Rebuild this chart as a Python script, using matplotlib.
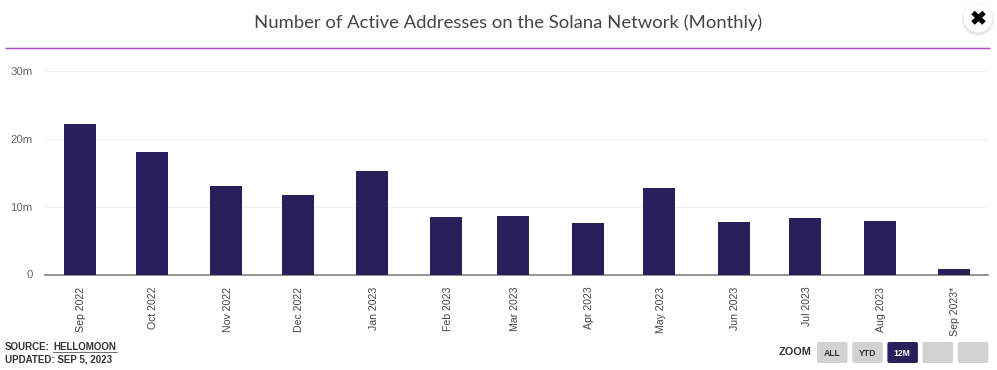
#!/usr/bin/env python3
import matplotlib
matplotlib.use("Agg")
import matplotlib.pyplot as plt
import matplotlib.dates as mdates
from matplotlib.patches import FancyBboxPatch, Circle
from datetime import date

W = 997
H = 370
navy = "#27205c"

months = [date(2022, 9, 1), date(2022, 10, 1), date(2022, 11, 1), date(2022, 12, 1),
          date(2023, 1, 1), date(2023, 2, 1), date(2023, 3, 1), date(2023, 4, 1),
          date(2023, 5, 1), date(2023, 6, 1), date(2023, 7, 1), date(2023, 8, 1),
          date(2023, 9, 1)]
month_labels = ["Sep 2022", "Oct 2022", "Nov 2022", "Dec 2022", "Jan 2023", "Feb 2023",
                "Mar 2023", "Apr 2023", "May 2023", "Jun 2023", "Jul 2023", "Aug 2023",
                "Sep 2023*"]
active = [22.2, 18.1, 13.05, 11.7, 15.2, 8.5, 8.6, 7.6, 12.8, 7.75, 8.3, 7.9, 0.8]
y_ticks = [0, 10, 20, 30]
y_labels = ["0", "10m", "20m", "30m"]
zoom_buttons = ["ALL", "YTD", "12M", "", ""]

fig = plt.figure(figsize=(W / 100, H / 100), dpi=100)
fig.patch.set_facecolor("white")

# chart area, placed in pixels
left, right, top, bottom = 45, 988, 71, 274.5
ax = fig.add_axes([left / W, 1 - bottom / H, (right - left) / W, (bottom - top) / H])
x = mdates.date2num(months)
px_per_day = 2.394
ax.set_xlim(x[0] - (80 - left) / px_per_day, x[0] + (right - 80) / px_per_day)
ax.set_ylim(0, 30)
ax.bar(x, active, width=32 / px_per_day, color=navy, zorder=3)

ax.set_yticks(y_ticks)
ax.set_yticklabels(y_labels, fontsize=8.2, color="#666666", family="Liberation Sans")
# tick labels sit a bit off the tick in the original, so annotate them instead
ax.set_xticks(x)
ax.set_xticklabels([])
for xi, label in zip(x, month_labels):
    ax.annotate(label, (xi, 0), xytext=(1.5, -12), textcoords="offset pixels", rotation=90,
                ha="center", va="top", fontsize=7.6, color="#444444",
                family="Liberation Sans", annotation_clip=False)
ax.tick_params(axis="both", length=0)
ax.tick_params(axis="y", pad=9)
ax.grid(axis="y", color="#efefef", lw=0.8, zorder=0)
ax.set_axisbelow(True)
for s in ["top", "left", "right"]:
    ax.spines[s].set_visible(False)
ax.spines["bottom"].set_color("#8c8c8c")
ax.spines["bottom"].set_linewidth(1.3)

# overlay in pixel coordinates for the page furniture
ov = fig.add_axes([0, 0, 1, 1], zorder=5)
ov.set_xlim(0, W)
ov.set_ylim(H, 0)
ov.axis("off")
ov.patch.set_alpha(0)

ov.text(508, 22.5, "Number of Active Addresses on the Solana Network (Monthly)",
        ha="center", va="center", fontsize=13.3, color="#444444", family="Lato")
ov.plot([5, 990], [47.5, 47.5], color="#f0c8f5", lw=1.8, solid_capstyle="butt")
ov.plot([5, 990], [47.5, 47.5], color="#a94fd0", lw=0.8, solid_capstyle="butt")

# close button with a soft shadow
for r, a in [(17, 0.02), (16, 0.03), (15.2, 0.05)]:
    ov.add_patch(Circle((978, 19.5), r, fc="black", ec="none", alpha=a))
ov.add_patch(Circle((978, 18), 14.5, fc="white", ec="none"))
ov.plot([973, 984], [12.5, 23], color="black", lw=3.6, solid_capstyle="butt")
ov.plot([973, 984], [23, 12.5], color="black", lw=3.6, solid_capstyle="butt")

# source block
ov.text(5, 347.5, "SOURCE:", fontsize=7, fontweight="bold", color="#333333",
        family="Liberation Sans", va="center")
ov.text(53, 347.5, "HELLOMOON", fontsize=7, fontweight="bold", color="#333333",
        family="Liberation Sans", va="center")
ov.plot([53, 117], [352.3, 352.3], color="#555555", lw=0.6)
ov.text(5, 359, "UPDATED: SEP 5, 2023", fontsize=7, fontweight="bold", color="#333333",
        family="Liberation Sans", va="center")

# zoom buttons
ov.text(779, 352, "ZOOM", fontsize=7.8, fontweight="bold", color="#333333",
        family="Liberation Sans", va="center")
btn_x = 817
for label in zoom_buttons:
    active_btn = label == "12M"
    ov.add_patch(FancyBboxPatch((btn_x, 342), 30.5, 21, boxstyle="round,pad=0,rounding_size=2",
                                fc=navy if active_btn else "#d2d2d2", ec="none"))
    if label:
        ov.text(btn_x + 15, 353, label, fontsize=6.2, fontweight="bold", ha="center", va="center",
                color="white" if active_btn else "#333333", family="Liberation Sans")
    btn_x += 35.2

fig.savefig("out.png", dpi=100)
